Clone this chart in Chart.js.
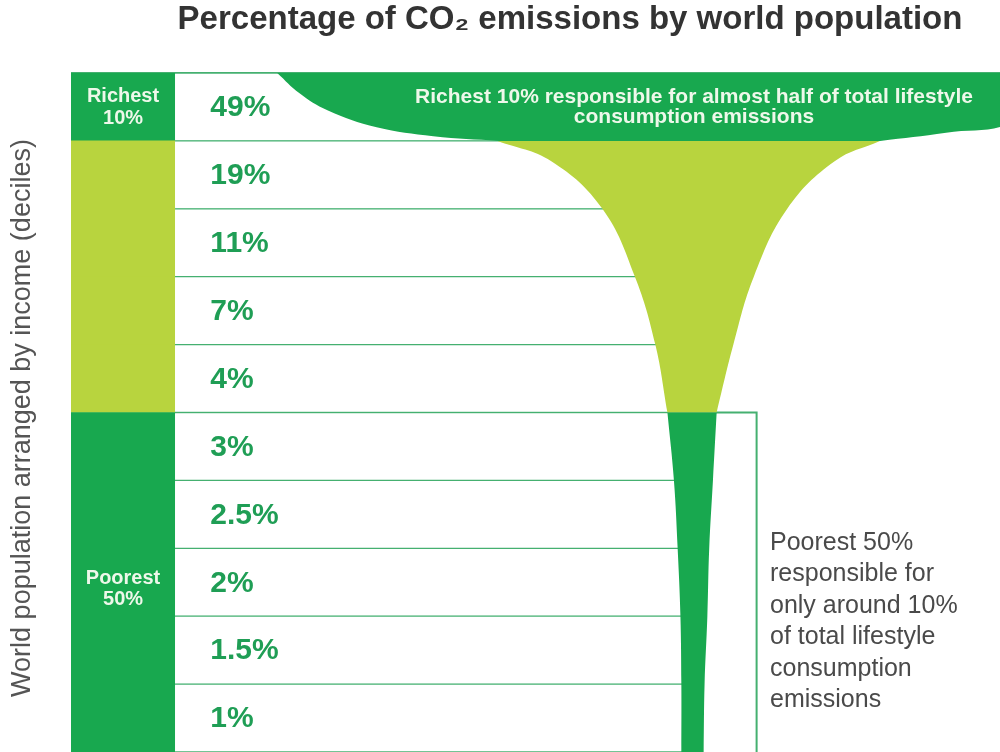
<!DOCTYPE html>
<html>
<head>
<meta charset="utf-8">
<script src="https://cdn.jsdelivr.net/npm/chart.js@4.4.1/dist/chart.umd.min.js"></script>
<style>
  html, body { margin: 0; padding: 0; background: #fff; }
  #wrap { width: 1000px; height: 752px; position: relative; }
</style>
</head>
<body>
<div id="wrap"><canvas id="graphique"></canvas></div>
<script>
// deciles of world population, richest first
const deciles = ["10th", "9th", "8th", "7th", "6th", "5th", "4th", "3rd", "2nd", "1st"];
const shares = [49, 19, 11, 7, 4, 3, 2.5, 2, 1.5, 1];

// outline of the "glass"
// x : 0-100 across the plot, y : position in decile rows from the top
const bandY = [0, 0.3, 0.55, 0.8, 0.93, 1];
const bandLeft = [22.2, 24.6, 27.6, 32.9, 39.0, 46.1];
const bandRightY = [0, 0.7, 0.88, 1];
const bandRight = [104, 101.5, 94.2, 87.1];
const cupY = [1, 1.3, 2, 3, 4, 5];
const cupLeft = [45.9, 51.7, 57.2, 60.7, 62.9, 64.2];
const cupRight = [87.1, 82.2, 77.1, 73.5, 71.3, 69.5];
const stemY = [5, 6, 7, 8, 9, 10];
const stemLeft = [64.2, 64.9, 65.3, 65.6, 65.7, 65.7];
const stemRight = [69.5, 69.1, 68.7, 68.5, 68.2, 68.1];

const colEnd = 11.2;
const rowEnd = 66.5;
const boxRight = 73.8;

const darkGreen = "#18a84f";
const lightGreen = "#b8d43e";
const lineGreen = "#45b070";
const textGreen = "#1f9e55";
const font = "'Liberation Sans', Arial, sans-serif";

function toPoints(ys, xs){
    return ys.map((y, i) => ({x: xs[i], y: y}));
}

function glass(label, ys, xs, color){
    return {
        type: "line",
        label: label,
        data: toPoints(ys, xs),
        xAxisID: "x",
        yAxisID: "yl",
        borderColor: "rgba(0,0,0,0)",
        borderWidth: 0,
        pointRadius: 0,
        tension: 0.4,
        capBezierPoints: false,
        fill: color ? "+1" : false,
        backgroundColor: color || "rgba(0,0,0,0)",
        order: 1
    };
}

const decor = {
    id: "decor",
    beforeDatasetsDraw(chart){
        const {ctx, chartArea, scales} = chart;
        ctx.save();
        ctx.strokeStyle = lineGreen;
        ctx.lineWidth = 2;
        ctx.beginPath();
        ctx.moveTo(chartArea.left, chartArea.top);
        ctx.lineTo(chartArea.right, chartArea.top);
        ctx.stroke();
        // box round the poorest half
        const x0 = scales.x.getPixelForValue(colEnd);
        const x1 = scales.x.getPixelForValue(boxRight);
        const y0 = scales.yl.getPixelForValue(5);
        const y1 = scales.yl.getPixelForValue(10);
        ctx.beginPath();
        ctx.moveTo(x0, y0);
        ctx.lineTo(x1, y0);
        ctx.lineTo(x1, y1);
        ctx.stroke();
        ctx.restore();
    },
    afterDatasetsDraw(chart){
        const {ctx, scales} = chart;
        ctx.save();
        ctx.textBaseline = "middle";

        // title
        ctx.fillStyle = "#333";
        ctx.textAlign = "center";
        ctx.font = "bold 33px " + font;
        ctx.fillText("Percentage of CO\u2082 emissions by world population", 570, 20);

        // axis title
        ctx.save();
        ctx.translate(23, 418);
        ctx.rotate(-Math.PI / 2);
        ctx.fillStyle = "#555";
        ctx.font = "27px " + font;
        ctx.fillText("World population arranged by income (deciles)", 0, 0);
        ctx.restore();

        // group labels in the first column
        const cx = scales.x.getPixelForValue(colEnd / 2);
        ctx.fillStyle = "#eef8ea";
        ctx.font = "bold 20px " + font;
        const yr = scales.yl.getPixelForValue(0.5);
        ctx.fillText("Richest", cx, yr - 10);
        ctx.fillText("10%", cx, yr + 12);
        const yp = scales.yl.getPixelForValue(7.5);
        ctx.fillText("Poorest", cx, yp - 4);
        ctx.fillText("50%", cx, yp + 17);

        // shares
        ctx.textAlign = "left";
        ctx.fillStyle = textGreen;
        ctx.font = "bold 30px " + font;
        const xl = scales.x.getPixelForValue(15);
        shares.forEach((v, i) => {
            ctx.fillText(v + "%", xl, scales.y.getPixelForValue(i) + 1);
        });

        // note in the top band
        ctx.textAlign = "center";
        ctx.fillStyle = "#eef8ea";
        ctx.font = "bold 21px " + font;
        ctx.fillText("Richest 10% responsible for almost half of total lifestyle", 694, 97);
        ctx.fillText("consumption emissions", 694, 117);

        // note for the poorest half
        ctx.textAlign = "left";
        ctx.fillStyle = "#4a4a4a";
        ctx.font = "25px " + font;
        const lines = ["Poorest 50%", "responsible for", "only around 10%", "of total lifestyle", "consumption", "emissions"];
        lines.forEach((t, i) => ctx.fillText(t, 770, 543 + i * 31.5));
        ctx.restore();
    }
};

new Chart(document.querySelector("#graphique"), {
    type: "bar",
    data: {
        labels: deciles,
        datasets: [
            {
                label: "group",
                data: deciles.map(() => [0, colEnd]),
                backgroundColor: (c) => (c.dataIndex === 0 || c.dataIndex >= 5) ? darkGreen : lightGreen,
                borderWidth: 0,
                grouped: false,
                barPercentage: 1,
                categoryPercentage: 1,
                xAxisID: "x",
                yAxisID: "y",
                order: 3
            },
            {
                label: "share",
                data: deciles.map(() => [colEnd, rowEnd]),
                backgroundColor: "#fff",
                borderColor: lineGreen,
                borderWidth: {top: 1, bottom: 1, left: 0, right: 0},
                borderSkipped: false,
                grouped: false,
                barPercentage: 1,
                categoryPercentage: 1,
                xAxisID: "x",
                yAxisID: "y",
                order: 2
            },
            glass("band", bandY, bandLeft, darkGreen),
            glass("band-r", bandRightY, bandRight),
            glass("cup", cupY, cupLeft, lightGreen),
            glass("cup-r", cupY, cupRight),
            glass("stem", stemY, stemLeft, darkGreen),
            glass("stem-r", stemY, stemRight)
        ]
    },
    options: {
        indexAxis: "y",
        responsive: true,
        maintainAspectRatio: false,
        animation: false,
        layout: {padding: {left: 71, top: 73, right: 0, bottom: 0}},
        plugins: {
            legend: {display: false},
            tooltip: {enabled: false},
            title: {display: false}
        },
        scales: {
            x: {type: "linear", min: 0, max: 100, display: false, offset: false},
            y: {type: "category", display: false, offset: true},
            yl: {type: "linear", axis: "y", position: "left", min: 0, max: 10, reverse: true, display: false, offset: false}
        }
    },
    plugins: [decor]
});
</script>
</body>
</html>
